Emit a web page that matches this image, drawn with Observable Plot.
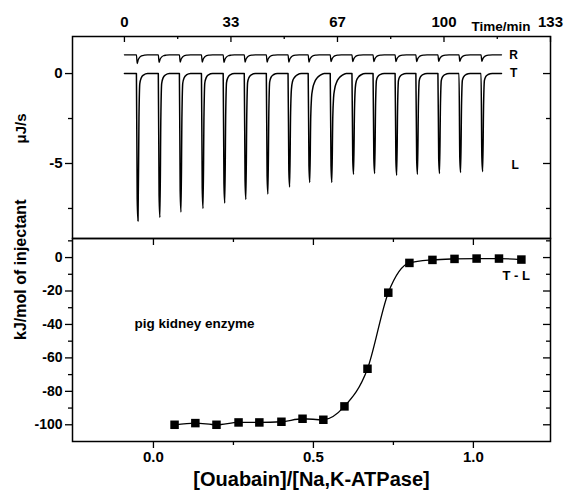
<!DOCTYPE html>
<html><head><meta charset="utf-8">
<script src="https://cdn.jsdelivr.net/npm/d3@7"></script>
<script src="https://cdn.jsdelivr.net/npm/@observablehq/plot@0.6"></script>
<style>
html,body{margin:0;padding:0;background:#fff;}
#wrap{position:relative;width:565px;height:496px;overflow:hidden;}
#wrap svg{position:absolute;left:0;overflow:visible;}
</style></head><body><div id="wrap"></div>
<script>
// ---- raw ITC trace (top panel) ----
const injTime = [3.75, 10.6, 17.2, 24.1, 30.9, 37.5, 44.4, 51.2, 57.5, 64.4, 71.2, 77.8, 84.7, 91.2, 98.1, 104.7, 111.6]; // min
const tPeak = [-8.2, -8.0, -7.7, -7.5, -7.2, -7.0, -6.7, -6.3, -6.05, -6.05, -5.6, -5.55, -5.65, -5.6, -5.55, -5.5, -5.45]; // µJ/s
const tShape = ["f","f","f","f","f","f","f","m","s","s","m","f","f","f","f","f","f"];
const rDip = [0.48, 0.42, 0.4, 0.4, 0.42, 0.4, 0.4, 0.4, 0.4, 0.38, 0.38, 0.38, 0.38, 0.38, 0.36, 0.36, 0.36];
const runStart = 0, runEnd = 118;
const tBaseline = 0, rBaseline = 1.04;
// peak profiles: minutes after injection, fraction of peak depth
const profileDt = {
  f: [0, 0.25, 0.5, 0.8, 1.05, 1.5, 2.2, 3.5],
  m: [0, 0.25, 0.5, 0.8, 1.05, 1.4, 2.0, 2.9, 4.2],
  s: [0, 0.25, 0.5, 0.8, 1.05, 1.4, 2.0, 2.8, 3.8, 5.0],
  r: [0, 0.25, 0.6, 1.0, 1.6, 2.5, 3.5]
};
const profileFrac = {
  f: [0, 0.85, 1.0, 0.3, 0.07, 0.03, 0.01, 0],
  m: [0, 0.85, 1.0, 0.35, 0.14, 0.07, 0.035, 0.012, 0],
  s: [0, 0.85, 1.0, 0.4, 0.22, 0.14, 0.08, 0.04, 0.015, 0],
  r: [0, 1.0, 0.55, 0.3, 0.12, 0.04, 0]
};
// ---- integrated heats (bottom panel) ----
const ratio = [0.066, 0.131, 0.197, 0.266, 0.331, 0.4, 0.466, 0.531, 0.597, 0.669, 0.734, 0.8, 0.872, 0.941, 1.01, 1.08, 1.15];
const heat = [-100, -99, -100, -98.6, -98.6, -98.2, -96.4, -97, -89, -66.5, -21, -3.2, -1.4, -0.8, -0.6, -0.6, -1.2];
// ---- ticks ----
const timeTicks = [0, 33.33, 66.67, 100, 133.33];
const timeLabels = ["0", "33", "67", "100", "133"];
const timeMinor = [16.67, 50, 83.33, 116.67];
const powerTicks = [0, -5];
const powerMinor = [-2.5, -7.5];
const ratioTicks = [0, 0.5, 1.0];
const ratioMinor = [0.25, 0.75];
const heatTicks = [0, -20, -40, -60, -80, -100];
const heatMinor = [10, -10, -30, -50, -70, -90];

// build trace tables
function trace(base, depths, shapes) {
  const pts = [{t: runStart, v: base}];
  injTime.forEach((t0, i) => {
    const k = shapes[i];
    profileDt[k].forEach((dt, j) => pts.push({t: t0 + dt, v: base + depths[i] * profileFrac[k][j]}));
  });
  pts.push({t: runEnd, v: base});
  return pts;
}
const tTrace = trace(tBaseline, tPeak, tShape);
const rTrace = trace(rBaseline, rDip.map(d => -d), injTime.map(() => "r"));
const heatData = ratio.map((r, i) => ({r, h: heat[i]}));

const W = 565, ML = 72, MR = 15;
const innerW = W - ML - MR;
const font = "'Liberation Sans', Arial, Helvetica, sans-serif";
const style = {fontFamily: font, fontSize: "15px", fontWeight: "bold", color: "#000", background: "transparent", overflow: "visible"};
const fmt = d => String(d);

// ---- top panel ----
const topH = 240, topMT = 36, topMB = 2, topInner = topH - topMT - topMB;
const topPlot = Plot.plot({
  width: W, height: topH, marginLeft: ML, marginRight: MR, marginTop: topMT, marginBottom: topMB,
  style,
  x: {domain: [-16.25, 133.33]},
  y: {domain: [-9.17, 2.06]},
  marks: [
    Plot.frame({stroke: "#000", strokeWidth: 1.5}),
    Plot.axisY({ticks: powerTicks, tickSize: 7, tickPadding: 3, tickFormat: fmt, label: null, strokeWidth: 1.3}),
    Plot.axisY({ticks: powerMinor, tickSize: 4, tickFormat: () => "", label: null, strokeWidth: 1.3}),
    Plot.tickY(powerTicks, {y: d => d, insetLeft: innerW - 7, strokeWidth: 1.3}),
    Plot.tickY(powerMinor, {y: d => d, insetLeft: innerW - 4, strokeWidth: 1.3}),
    Plot.axisX({anchor: "top", ticks: timeTicks, tickSize: 0, tickPadding: 10, tickFormat: d => timeLabels[timeTicks.indexOf(d)], label: null}),
    Plot.tickX(timeTicks, {x: d => d, insetBottom: topInner - 6, strokeWidth: 1.3}),
    Plot.tickX(timeMinor, {x: d => d, insetBottom: topInner - 3, strokeWidth: 1.3}),
    Plot.line(rTrace, {x: "t", y: "v", stroke: "#000", strokeWidth: 1.3, curve: "monotone-x"}),
    Plot.line(tTrace, {x: "t", y: "v", stroke: "#000", strokeWidth: 1.5, curve: "monotone-x"}),
    Plot.text([{s: "R", t: 121.8, v: 1.0}, {s: "T", t: 121.8, v: 0}, {s: "L", t: 122.3, v: -5.1}],
      {x: "t", y: "v", text: "s", fontSize: 12, textAnchor: "middle"}),
    Plot.text(["Time/min"], {frameAnchor: "top-right", dx: -20, dy: -15, textAnchor: "end", fontSize: 13.5}),
    Plot.text(["μJ/s"], {frameAnchor: "left", dx: -51, dy: 6, rotate: -90, fontSize: 15})
  ]
});

// ---- bottom panel ----
const botTop = 236, botH = 260, botMT = 2, botMB = 55, botInner = botH - botMT - botMB;
const botPlot = Plot.plot({
  width: W, height: botH, marginLeft: ML, marginRight: MR, marginTop: botMT, marginBottom: botMB,
  style,
  x: {domain: [-0.253, 1.241]},
  y: {domain: [-110, 11.4]},
  marks: [
    Plot.frame({stroke: "#000", strokeWidth: 1.5}),
    Plot.axisX({ticks: ratioTicks, tickSize: 7, tickPadding: 3, tickFormat: d3.format(".1f"), label: null, strokeWidth: 1.3}),
    Plot.axisX({ticks: ratioMinor, tickSize: 4, tickFormat: () => "", label: null, strokeWidth: 1.3}),
    Plot.tickX(ratioTicks, {x: d => d, insetBottom: botInner - 7, strokeWidth: 1.3}),
    Plot.tickX(ratioMinor, {x: d => d, insetBottom: botInner - 4, strokeWidth: 1.3}),
    Plot.axisY({ticks: heatTicks, tickSize: 7, tickPadding: 3, tickFormat: fmt, label: null, strokeWidth: 1.3, fontSize: 14}),
    Plot.axisY({ticks: heatMinor, tickSize: 4, tickFormat: () => "", label: null, strokeWidth: 1.3}),
    Plot.tickY(heatTicks, {y: d => d, insetLeft: innerW - 7, strokeWidth: 1.3}),
    Plot.tickY(heatMinor, {y: d => d, insetLeft: innerW - 4, strokeWidth: 1.3}),
    Plot.line(heatData, {x: "r", y: "h", stroke: "#000", strokeWidth: 1.3, curve: "monotone-x"}),
    Plot.dot(heatData, {x: "r", y: "h", symbol: "square", r: 4.8, fill: "#000", stroke: "none"}),
    Plot.text(["T - L"], {x: [1.134], y: [-11], fontSize: 13}),
    Plot.text(["pig kidney enzyme"], {x: [0.128], y: [-39.5], fontSize: 13.5}),
    Plot.text(["kJ/mol of injectant"], {frameAnchor: "left", dx: -52, rotate: -90, fontSize: 16}),
    Plot.text(["[Ouabain]/[Na,K-ATPase]"], {frameAnchor: "bottom", dy: 44, fontSize: 20})
  ]
});

const wrap = document.getElementById("wrap");
topPlot.style.top = "0px";
botPlot.style.top = botTop + "px";
wrap.appendChild(topPlot);
wrap.appendChild(botPlot);
</script>
</body></html>
